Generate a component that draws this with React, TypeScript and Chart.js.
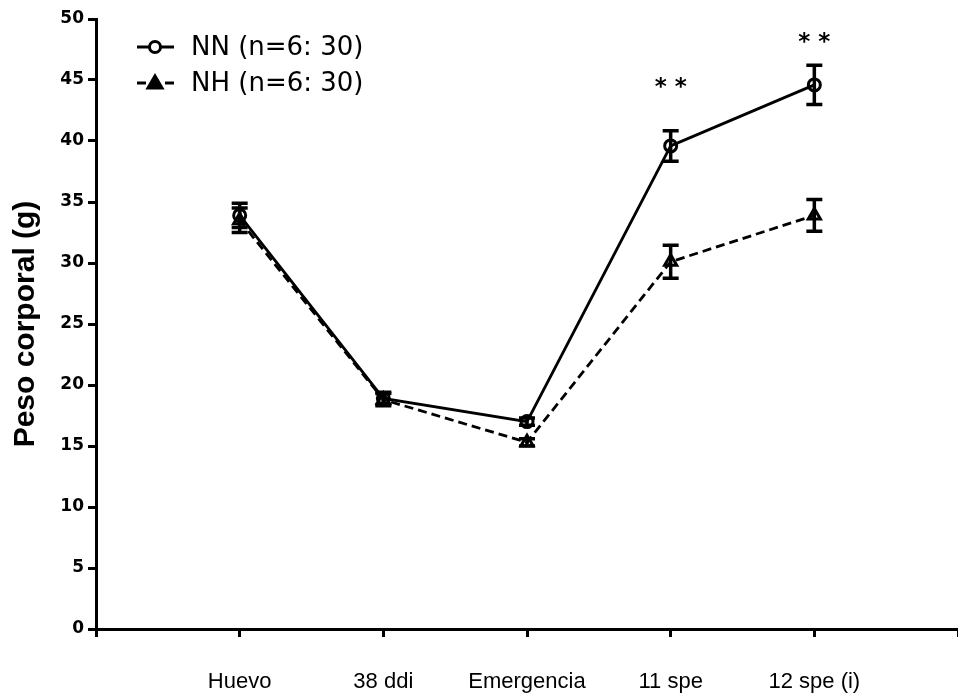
import React, { useEffect, useRef } from "react";
import { Chart, registerables } from "chart.js";

Chart.register(...registerables);

const categories = ["Huevo", "38 ddi", "Emergencia", "11 spe", "12 spe (i)"];
const nnValues = [33.9, 18.9, 17.0, 39.6, 44.6];
const nnErrors = [1.0, 0.5, 0.3, 1.25, 1.6];
const nhValues = [33.5, 18.8, 15.3, 30.1, 33.9];
const nhErrors = [1.0, 0.5, 0.3, 1.35, 1.3];
const yTicks = [0, 5, 10, 15, 20, 25, 30, 35, 40, 45, 50];
const sigIndex = [3, 4];
const sigY = [44.8, 48.5];
const sigText = ["* *", "* *"];
const seriesLabels = ["NN (n=6: 30)", "NH (n=6: 30)"];

const ARIAL = "'Liberation Sans', Arial, sans-serif";
const DEJAVU = "'DejaVu Sans', sans-serif";

const errorBarPlugin = {
  id: "errorBars",
  beforeDatasetsDraw(chart: any) {
    const ctx = chart.ctx;
    const xs = chart.scales.x;
    const ys = chart.scales.y;
    const sets = [
      { v: nnValues, e: nnErrors },
      { v: nhValues, e: nhErrors },
    ];
    ctx.save();
    ctx.strokeStyle = "#000";
    ctx.lineWidth = 3.5;
    sets.forEach((s) => {
      s.v.forEach((val, i) => {
        const px = xs.getPixelForValue(i);
        const top = ys.getPixelForValue(val + s.e[i]);
        const bot = ys.getPixelForValue(val - s.e[i]);
        ctx.beginPath();
        ctx.moveTo(px, top);
        ctx.lineTo(px, bot);
        ctx.moveTo(px - 8, top);
        ctx.lineTo(px + 8, top);
        ctx.moveTo(px - 8, bot);
        ctx.lineTo(px + 8, bot);
        ctx.stroke();
      });
    });
    ctx.restore();
  },
  afterDatasetsDraw(chart: any) {
    const ctx = chart.ctx;
    const xs = chart.scales.x;
    const ys = chart.scales.y;
    ctx.save();
    ctx.fillStyle = "#000";
    ctx.font = `bold 23px ${DEJAVU}`;
    ctx.textAlign = "center";
    ctx.textBaseline = "middle";
    sigIndex.forEach((idx, k) => {
      ctx.fillText(sigText[k], xs.getPixelForValue(idx), ys.getPixelForValue(sigY[k]) + 6);
    });
    // legend
    const rows = [47, 83];
    chart.data.datasets.forEach((ds: any, k: number) => {
      const y = rows[k];
      ctx.strokeStyle = "#000";
      ctx.lineWidth = 3;
      ctx.setLineDash(ds.borderDash ? [9, 5] : []);
      ctx.beginPath();
      ctx.moveTo(137, y);
      ctx.lineTo(174, y);
      ctx.stroke();
      ctx.setLineDash([]);
      ctx.beginPath();
      if (ds.pointStyle === "triangle") {
        ctx.moveTo(155, y - 7);
        ctx.lineTo(162, y + 5);
        ctx.lineTo(148, y + 5);
        ctx.closePath();
        ctx.fillStyle = "#000";
        ctx.fill();
      } else {
        ctx.arc(155, y, 5.5, 0, Math.PI * 2);
        ctx.fillStyle = "#fff";
        ctx.fill();
      }
      ctx.stroke();
      ctx.fillStyle = "#000";
      ctx.font = `26px ${DEJAVU}`;
      ctx.textAlign = "left";
      ctx.fillText(ds.label, 191, y + 1);
    });
    ctx.restore();
  },
};

export default function App() {
  const ref = useRef<HTMLCanvasElement | null>(null);
  useEffect(() => {
    document.body.style.margin = "0";
    const toPts = (vals: number[]) => vals.map((v, i) => ({ x: i, y: v }));
    const chart = new Chart(ref.current!, {
      type: "line",
      data: {
        datasets: [
          {
            label: seriesLabels[0],
            data: toPts(nnValues),
            borderColor: "#000",
            borderWidth: 2.8,
            pointStyle: "circle",
            pointRadius: 6,
            pointBorderWidth: 3,
            pointBackgroundColor: "rgba(255,255,255,0)",
            pointBorderColor: "#000",
          },
          {
            label: seriesLabels[1],
            data: toPts(nhValues),
            borderColor: "#000",
            borderWidth: 2.8,
            borderDash: [9, 5],
            pointStyle: "triangle",
            pointRadius: 7,
            pointBorderWidth: 3,
            pointBackgroundColor: "rgba(255,255,255,0)",
            pointBorderColor: "#000",
          },
        ] as any,
      },
      options: {
        animation: false,
        responsive: false,
        layout: { autoPadding: false, padding: { top: 19, left: 0, right: 0, bottom: 0 } },
        plugins: { legend: { display: false }, tooltip: { enabled: false } },
        scales: {
          x: {
            type: "linear",
            min: -1,
            max: 5,
            afterFit: (s: any) => {
              s.height = 67;
              s.paddingLeft = 0;
              s.paddingRight = 0;
            },
            afterBuildTicks: (s: any) => {
              s.ticks = [-1, 0, 1, 2, 3, 4, 5].map((v) => ({ value: v }));
            },
            ticks: {
              autoSkip: false,
              maxRotation: 0,
              padding: 32,
              color: "#000",
              font: { family: ARIAL, size: 22 },
              callback: (v: any) => (categories[v as number] ?? ""),
            },
            grid: {
              drawOnChartArea: false,
              drawTicks: true,
              tickLength: 8,
              tickWidth: 3,
              color: "#000",
            },
            border: { color: "#000", width: 3 },
          },
          y: {
            min: 0,
            max: 50,
            afterFit: (s: any) => {
              s.width = 96;
            },
            afterBuildTicks: (s: any) => {
              s.ticks = yTicks.map((v) => ({ value: v }));
            },
            ticks: {
              padding: 4,
              color: "#000",
              font: { family: DEJAVU, size: 17, weight: "bold" },
            },
            grid: {
              drawOnChartArea: false,
              drawTicks: true,
              tickLength: 8,
              tickWidth: 3,
              color: "#000",
            },
            border: { color: "#000", width: 3 },
            title: {
              display: true,
              text: "Peso corporal (g)",
              color: "#000",
              font: { family: ARIAL, size: 30, weight: "bold" },
              padding: { top: 8, bottom: 0 },
            },
          },
        },
      } as any,
      plugins: [errorBarPlugin],
    });
    return () => chart.destroy();
  }, []);
  return (
    <div style={{ position: "absolute", left: 0, top: 0, width: 958, height: 696 }}>
      <canvas ref={ref} width={958} height={696} style={{ width: 958, height: 696 }} />
    </div>
  );
}
